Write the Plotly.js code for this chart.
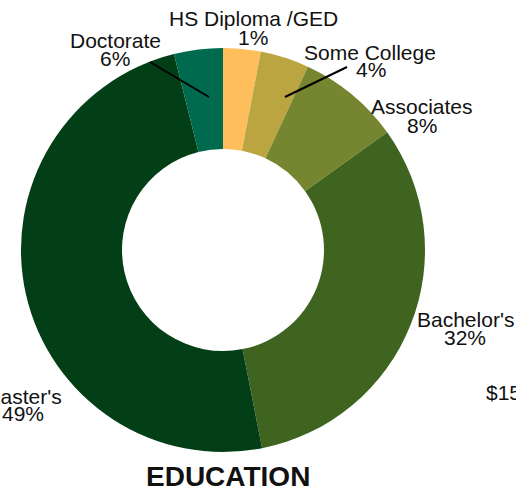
<!DOCTYPE html>
<html>
<head>
<meta charset="utf-8">
<script src="https://cdn.plot.ly/plotly-3.0.1.min.js"></script>
<style>html,body{margin:0;padding:0;background:#fff;}#chart{width:516px;height:493px;}</style>
</head>
<body>
<div id="chart"></div>
<script>
// Categories in clockwise order starting at 12 o'clock
const categories = ["HS Diploma /GED", "Some College", "Associates", "Bachelor's", "Master's", "Doctorate"];
// Slice sizes as drawn (share of the ring)
const sliceValues = [3.0, 3.9, 8.2, 31.8, 49.2, 3.9];
// Percent labels as printed on the chart
const percentLabels = ["1%", "4%", "8%", "32%", "49%", "6%"];
const colors = ["#FEBE5C", "#BBA540", "#768530", "#3F6420", "#023F16", "#006A4E"];
const chartTitle = "EDUCATION";

const W = 516, H = 493;
const px = x => x / W;
const py = y => 1 - y / H;

// label anchor positions (pixels): [nameX, nameY, pctX, pctY]
const labelPos = [
  [253, 19, 253, 37],
  [370, 52, 371, 69],
  [422, 107, 422, 125],
  [465, 319, 465, 337],
  [22, 396, 23, 413],
  [115, 41, 115, 59]
];

const FONT = 'Liberation Sans, Arial, sans-serif';
const annotations = [];
categories.forEach((c, i) => {
  const p = labelPos[i];
  annotations.push({x: px(p[0]), y: py(p[1]), xref: 'paper', yref: 'paper', text: c, showarrow: false,
    xanchor: 'center', yanchor: 'middle', font: {family: FONT, size: 21, color: '#111'}});
  annotations.push({x: px(p[2]), y: py(p[3]), xref: 'paper', yref: 'paper', text: percentLabels[i], showarrow: false,
    xanchor: 'center', yanchor: 'middle', font: {family: FONT, size: 21, color: '#111'}});
});
annotations.push({x: px(484), y: py(392), xref: 'paper', yref: 'paper', text: '$15', showarrow: false,
  xanchor: 'left', yanchor: 'middle', font: {family: FONT, size: 21, color: '#111'}});
annotations.push({x: px(228), y: py(476), xref: 'paper', yref: 'paper', text: '<b>' + chartTitle + '</b>', showarrow: false,
  xanchor: 'center', yanchor: 'middle', font: {family: FONT, size: 28, color: '#111'}});

const shapes = [
  {type: 'line', xref: 'paper', yref: 'paper', x0: px(150), y0: py(62), x1: px(209), y1: py(97), line: {color: '#000', width: 2}},
  {type: 'line', xref: 'paper', yref: 'paper', x0: px(347), y0: py(67), x1: px(285), y1: py(97), line: {color: '#000', width: 2}}
];

const trace = {
  type: 'pie',
  labels: categories,
  values: sliceValues,
  hole: 0.5,
  sort: false,
  direction: 'clockwise',
  rotation: 0,
  textinfo: 'none',
  hoverinfo: 'none',
  marker: {colors: colors, line: {width: 0}},
  domain: {x: [px(21), px(425)], y: [py(452), py(48)]},
  showlegend: false
};

Plotly.newPlot('chart', [trace], {
  width: W, height: H,
  margin: {l: 0, r: 0, t: 0, b: 0},
  paper_bgcolor: '#fff',
  showlegend: false,
  annotations: annotations,
  shapes: shapes
}, {staticPlot: true});
</script>
</body>
</html>
